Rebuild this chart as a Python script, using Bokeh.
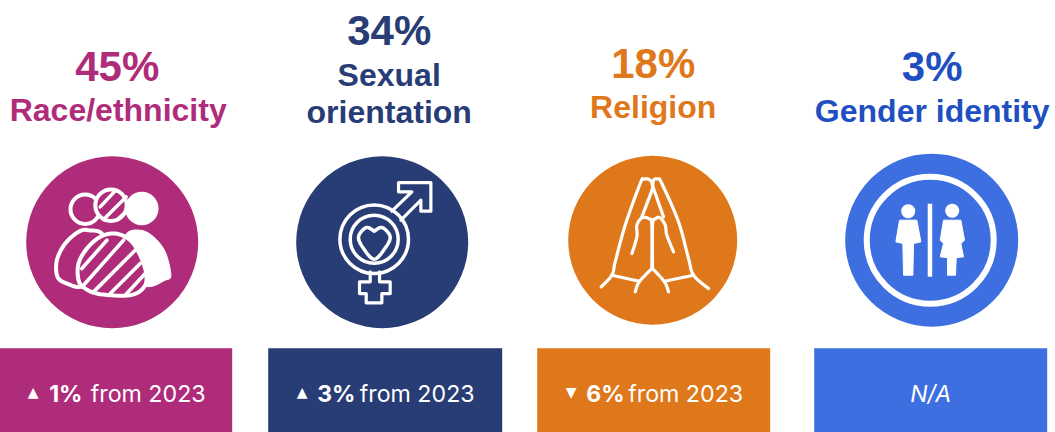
from bokeh.plotting import figure
from bokeh.models import Range1d
from bokeh.core.properties import value
from bokeh.embed import file_html
from bokeh.resources import INLINE

# ---- chart content
shares = ["45%", "34%", "18%", "3%"]
label_lines = [["Race/ethnicity"], ["Sexual", "orientation"], ["Religion"], ["Gender identity"]]
changes = ["1%", "3%", "6%", None]
arrows = ["▲", "▲", "▼", None]
suffix = "from 2023"
missing = "N/A"
colors = ["#AF2C7A", "#283C75", "#DF781B", "#3D6FE0"]
text_colors = ["#AF2C7A", "#283C75", "#DF781B", "#1F4FC0"]

W, H = 1055, 432
HEAD = "Liberation Sans"
BODY = "Inter"
WHITE = "#FFFFFF"

p = figure(width=W + 1, height=H + 1, output_backend="svg", toolbar_location=None,
           x_range=Range1d(-0.7, W + 0.3), y_range=Range1d(H + 0.3, -0.7), min_border=0)
p.axis.visible = False
p.grid.visible = False
p.outline_line_color = None
p.styles = {"position": "absolute", "left": "-1px", "top": "-1px"}

# ---- layout (pixels of the page)
cx = [112, 382, 652.5, 931.5]
cy = [242, 242, 240, 240]
rad = [86, 86, 84.5, 86.5]
bar_l = [-5, 268, 537, 814]
bar_r = [232, 502, 770, 1047]
bar_t, bar_b = 348, 440
head_pos = [
    [(117, 66, 42), (118, 110, 32)],
    [(389, 30, 42), (389, 75, 32), (389, 112, 32)],
    [(653, 63, 42), (653, 107, 32)],
    [(932, 66, 42), (932, 111, 32)],
]
arrow_x = [33, 302, 571]
bold_x = [49, 317, 586]
rest_x = [90.5, 359.5, 628]


def txt(x, y, s, color, size, font, style="normal", align="left"):
    p.text([x], [y], text=[s], text_color=color, text_font=value(font),
           text_font_size=f"{size}px", text_font_style=style,
           text_align=align, text_baseline="alphabetic")


for i in range(4):
    p.quad(left=[bar_l[i]], right=[bar_r[i]], top=[bar_t], bottom=[bar_b],
           fill_color=colors[i], line_color=None)
    p.circle([cx[i]], [cy[i]], radius=rad[i], fill_color=colors[i], line_color=None)
    rows = [shares[i]] + label_lines[i]
    for s, (x, y, size) in zip(rows, head_pos[i]):
        txt(x, y, s, text_colors[i], size, HEAD, "bold", "center")
    if changes[i] is None:
        txt((bar_l[i] + bar_r[i]) / 2, 393.5, missing, WHITE, 23, BODY, "italic", "center")
    else:
        txt(arrow_x[i], 392, arrows[i], WHITE, 14, "DejaVu Sans", "normal", "center")
        txt(bold_x[i], 393.5, changes[i], WHITE, 23, BODY, "bold")
        txt(rest_x[i], 393.5, suffix, WHITE, 23.2, BODY)


def zc(ox, oy, pts):
    return [ox + a / 3 for a, b in pts], [oy + b / 3 for a, b in pts]


def smooth(pts, closed=False, n=8):
    out = []
    m = len(pts)
    rng = range(m if closed else m - 1)
    for i in rng:
        if closed:
            p0, p1, p2, p3 = pts[(i - 1) % m], pts[i], pts[(i + 1) % m], pts[(i + 2) % m]
        else:
            p0, p1, p2, p3 = pts[max(i - 1, 0)], pts[i], pts[i + 1], pts[min(i + 2, m - 1)]
        for k in range(n):
            t = k / n
            f = lambda a, b, c, d: 0.5 * (2 * b + (c - a) * t + (2 * a - 5 * b + 4 * c - d) * t * t
                                          + (3 * b - a - 3 * c + d) * t ** 3)
            out.append((f(p0[0], p1[0], p2[0], p3[0]), f(p0[1], p1[1], p2[1], p3[1])))
    if not closed:
        out.append(pts[-1])
    return out


def stroke(ox, oy, pts, w=3.0, curve=False):
    q = smooth(pts) if curve else pts
    xs, ys = zc(ox, oy, q)
    p.line(xs, ys, line_color=WHITE, line_width=w, line_cap="round", line_join="round")


def shape(ox, oy, pts, fill, w=3.0, curve=True):
    q = smooth(pts, closed=True) if curve else pts
    xs, ys = zc(ox, oy, q)
    p.patch(xs, ys, fill_color=fill, line_color=WHITE, line_width=w, line_join="round")


def ring(x, y, r, w=3.0, fill=None):
    p.circle([x], [y], radius=r, fill_color=fill, line_color=WHITE, line_width=w)


# race / ethnicity
o = (50, 180)
ring(85, 209, 14.7, 4)
ring(141.6, 208.3, 16.7, 0.1, WHITE)
ring(110.8, 205, 15.7, 4, colors[0])
for seg in [[(150, 80), (195, 32)], [(160, 118), (228, 50)], [(205, 115), (232, 90)]]:
    stroke(*o, seg, 3.5)
shape(*o, [(225, 165), (270, 150), (310, 170), (345, 215), (362, 285), (345, 300), (285, 318), (200, 260)], WHITE, 1)
shape(*o, [(22, 290), (20, 240), (45, 190), (85, 155), (115, 150), (160, 170), (150, 290), (95, 320), (50, 310)], colors[0], 4)
shape(*o, [(85, 300), (85, 250), (110, 205), (150, 170), (195, 160), (240, 180), (270, 225), (288, 280), (282, 320),
           (240, 345), (150, 342), (105, 325)], colors[0], 4)
for seg in [[(95, 265), (170, 180)], [(100, 315), (220, 180)], [(130, 335), (255, 210)], [(175, 345), (270, 250)],
            [(225, 345), (285, 280)]]:
    stroke(*o, seg, 3.6)

# sexual orientation
ring(374, 239, 34.3, 3.5)
ring(374, 239, 24, 3.5)
o = (280, 140)
stroke(*o, [(335, 213), (395, 155), (355, 155), (355, 127), (452, 127), (452, 213), (422, 213), (422, 180), (362, 240)], 3.2)
stroke(*o, [(270, 395), (270, 425), (238, 425), (238, 460), (258, 460), (258, 488), (305, 488), (305, 460), (330, 460),
            (330, 425), (298, 425), (298, 395)], 3.2)
stroke(330, 195, smooth([(132, 108), (108, 97), (85, 125), (100, 160), (132, 192), (164, 160), (180, 125), (156, 97), (132, 108)]), 3.5)

# religion
o = (595, 175)
stroke(*o, smooth([(18, 335), (50, 300), (60, 260), (90, 150), (135, 25), (145, 12), (165, 15), (175, 40), (205, 125)]), 3.2)
stroke(*o, smooth([(340, 340), (295, 300), (280, 250), (250, 140), (200, 25), (190, 12), (175, 15), (170, 45), (140, 125)]), 3.2)
stroke(*o, smooth([(110, 235), (125, 185), (125, 150), (140, 128), (160, 130), (170, 150), (170, 280)]), 3.2)
stroke(*o, smooth([(235, 230), (215, 180), (210, 150), (195, 128), (182, 130), (172, 150), (172, 280)]), 3.2)
stroke(*o, smooth([(170, 280), (132, 320), (120, 350)]), 3.2)
stroke(*o, smooth([(172, 280), (208, 320), (220, 350)]), 3.2)
stroke(*o, [(50, 300), (132, 318)], 3.2)
stroke(*o, [(208, 318), (295, 300)], 3.2)

# gender identity
o = (830, 140)
ring(930, 240, 63.5, 6)
p.quad(left=[927.5], right=[932], top=[203.5], bottom=[276.5], fill_color=WHITE, line_color=None)
ring(908, 211, 7, 0.1, WHITE)
ring(952, 210.5, 7, 0.1, WHITE)
shape(*o, [(208, 240), (260, 240), (272, 305), (250, 310), (248, 405), (220, 405), (218, 310), (197, 305)], WHITE, 1, curve=False)
shape(*o, [(340, 240), (392, 240), (403, 300), (392, 310), (400, 350), (378, 352), (376, 405), (352, 405), (352, 352),
           (330, 350), (340, 310), (330, 300)], WHITE, 1, curve=False)

open("out.html", "w").write(file_html(p, INLINE))
